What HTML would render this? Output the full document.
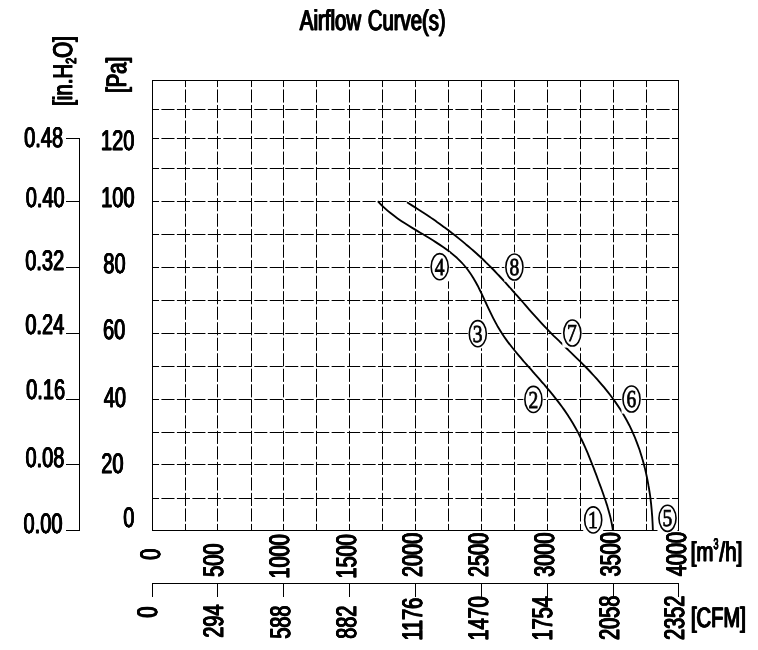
<!DOCTYPE html>
<html><head><meta charset="utf-8"><title>Airflow Curve(s)</title>
<style>
html,body{margin:0;padding:0;background:#fff;}
svg{display:block;filter:grayscale(1);}
text{font-family:"Liberation Sans",sans-serif;fill:#000;text-rendering:geometricPrecision;}
</style></head>
<body>
<svg width="758" height="650" viewBox="0 0 758 650">
<rect width="758" height="650" fill="#fff"/>
<g stroke="#000" stroke-width="1.0" fill="none">
<line x1="185.5" y1="80.5" x2="185.5" y2="530.5" stroke-dasharray="13.117 2.4" stroke-dashoffset="6.559"/>
<line x1="217.5" y1="80.5" x2="217.5" y2="530.5" stroke-dasharray="13.117 2.4" stroke-dashoffset="6.559"/>
<line x1="251.5" y1="80.5" x2="251.5" y2="530.5" stroke-dasharray="13.117 2.4" stroke-dashoffset="6.559"/>
<line x1="283.5" y1="80.5" x2="283.5" y2="530.5" stroke-dasharray="13.117 2.4" stroke-dashoffset="6.559"/>
<line x1="316.5" y1="80.5" x2="316.5" y2="530.5" stroke-dasharray="13.117 2.4" stroke-dashoffset="6.559"/>
<line x1="349.5" y1="80.5" x2="349.5" y2="530.5" stroke-dasharray="13.117 2.4" stroke-dashoffset="6.559"/>
<line x1="382.5" y1="80.5" x2="382.5" y2="530.5" stroke-dasharray="13.117 2.4" stroke-dashoffset="6.559"/>
<line x1="415.5" y1="80.5" x2="415.5" y2="530.5" stroke-dasharray="13.117 2.4" stroke-dashoffset="6.559"/>
<line x1="448.5" y1="80.5" x2="448.5" y2="530.5" stroke-dasharray="13.117 2.4" stroke-dashoffset="6.559"/>
<line x1="481.5" y1="80.5" x2="481.5" y2="530.5" stroke-dasharray="13.117 2.4" stroke-dashoffset="6.559"/>
<line x1="514.5" y1="80.5" x2="514.5" y2="530.5" stroke-dasharray="13.117 2.4" stroke-dashoffset="6.559"/>
<line x1="547.5" y1="80.5" x2="547.5" y2="530.5" stroke-dasharray="13.117 2.4" stroke-dashoffset="6.559"/>
<line x1="580.5" y1="80.5" x2="580.5" y2="530.5" stroke-dasharray="13.117 2.4" stroke-dashoffset="6.559"/>
<line x1="613.5" y1="80.5" x2="613.5" y2="530.5" stroke-dasharray="13.117 2.4" stroke-dashoffset="6.559"/>
<line x1="646.5" y1="80.5" x2="646.5" y2="530.5" stroke-dasharray="13.117 2.4" stroke-dashoffset="6.559"/>
<line x1="152.5" y1="109.5" x2="678.5" y2="109.5" stroke-dasharray="13.071 2.4" stroke-dashoffset="6.535"/>
<line x1="152.5" y1="138.5" x2="678.5" y2="138.5" stroke-dasharray="13.071 2.4" stroke-dashoffset="6.535"/>
<line x1="152.5" y1="168.5" x2="678.5" y2="168.5" stroke-dasharray="13.071 2.4" stroke-dashoffset="6.535"/>
<line x1="152.5" y1="201.5" x2="678.5" y2="201.5" stroke-dasharray="13.071 2.4" stroke-dashoffset="6.535"/>
<line x1="152.5" y1="234.5" x2="678.5" y2="234.5" stroke-dasharray="13.071 2.4" stroke-dashoffset="6.535"/>
<line x1="152.5" y1="267.5" x2="678.5" y2="267.5" stroke-dasharray="13.071 2.4" stroke-dashoffset="6.535"/>
<line x1="152.5" y1="300.5" x2="678.5" y2="300.5" stroke-dasharray="13.071 2.4" stroke-dashoffset="6.535"/>
<line x1="152.5" y1="333.5" x2="678.5" y2="333.5" stroke-dasharray="13.071 2.4" stroke-dashoffset="6.535"/>
<line x1="152.5" y1="366.5" x2="678.5" y2="366.5" stroke-dasharray="13.071 2.4" stroke-dashoffset="6.535"/>
<line x1="152.5" y1="399.5" x2="678.5" y2="399.5" stroke-dasharray="13.071 2.4" stroke-dashoffset="6.535"/>
<line x1="152.5" y1="432.5" x2="678.5" y2="432.5" stroke-dasharray="13.071 2.4" stroke-dashoffset="6.535"/>
<line x1="152.5" y1="464.5" x2="678.5" y2="464.5" stroke-dasharray="13.071 2.4" stroke-dashoffset="6.535"/>
<line x1="152.5" y1="498.5" x2="678.5" y2="498.5" stroke-dasharray="13.071 2.4" stroke-dashoffset="6.535"/>
<rect x="152.5" y="80.5" width="526.0" height="450.0"/>
</g>
<g stroke="#000" stroke-width="1.0" fill="none">
<line x1="79.5" y1="138.0" x2="79.5" y2="531.0"/>
<line x1="66" y1="138.5" x2="80" y2="138.5"/>
<line x1="66" y1="201.5" x2="80" y2="201.5"/>
<line x1="66" y1="267.5" x2="80" y2="267.5"/>
<line x1="66" y1="333.5" x2="80" y2="333.5"/>
<line x1="66" y1="399.5" x2="80" y2="399.5"/>
<line x1="66" y1="464.5" x2="80" y2="464.5"/>
<line x1="66" y1="530.5" x2="80" y2="530.5"/>
</g>
<g stroke="#000" stroke-width="1.0" fill="none">
<line x1="152.0" y1="583.5" x2="679.0" y2="583.5"/>
<line x1="152.5" y1="583.0" x2="152.5" y2="597"/>
<line x1="217.5" y1="583.0" x2="217.5" y2="597"/>
<line x1="283.5" y1="583.0" x2="283.5" y2="597"/>
<line x1="349.5" y1="583.0" x2="349.5" y2="597"/>
<line x1="415.5" y1="583.0" x2="415.5" y2="597"/>
<line x1="481.5" y1="583.0" x2="481.5" y2="597"/>
<line x1="547.5" y1="583.0" x2="547.5" y2="597"/>
<line x1="613.5" y1="583.0" x2="613.5" y2="597"/>
<line x1="678.5" y1="583.0" x2="678.5" y2="597"/>
</g>
<path d="M377.9,201.2 C378.9,202.3 381.8,205.5 383.9,207.4 C386.0,209.4 388.2,211.3 390.5,213.1 C392.8,214.9 395.2,216.7 397.6,218.4 C400.0,220.1 402.4,221.7 404.9,223.3 C407.4,224.9 410.0,226.5 412.6,228.1 C415.1,229.6 417.7,231.2 420.3,232.7 C422.9,234.2 425.5,235.8 428.0,237.3 C430.6,238.9 433.2,240.5 435.7,242.1 C438.2,243.7 440.7,245.3 443.1,247.0 C445.5,248.7 447.9,250.4 450.2,252.2 C452.5,254.0 454.7,255.9 456.9,257.8 C459.0,259.8 461.1,261.8 463.0,264.0 C464.9,266.1 466.8,268.4 468.5,270.7 C470.2,273.0 471.8,275.5 473.3,278.0 C474.8,280.5 476.3,283.1 477.7,285.7 C479.0,288.4 480.4,291.1 481.7,293.8 C483.0,296.5 484.2,299.2 485.5,302.0 C486.8,304.7 488.0,307.4 489.3,310.1 C490.6,312.8 491.9,315.5 493.2,318.1 C494.6,320.8 496.0,323.3 497.4,325.9 C498.9,328.4 500.4,330.9 502.0,333.4 C503.5,335.8 505.2,338.2 506.9,340.6 C508.6,342.9 510.4,345.3 512.2,347.5 C514.0,349.8 515.9,352.1 517.8,354.3 C519.7,356.6 521.6,358.8 523.5,361.1 C525.5,363.3 527.4,365.5 529.4,367.7 C531.3,370.0 533.3,372.2 535.2,374.4 C537.2,376.6 539.2,378.8 541.1,381.1 C543.0,383.3 545.0,385.5 546.9,387.8 C548.8,390.1 550.7,392.3 552.6,394.6 C554.4,396.9 556.3,399.2 558.1,401.6 C559.9,403.9 561.6,406.3 563.3,408.6 C565.1,411.0 566.7,413.5 568.3,415.9 C570.0,418.4 571.5,420.9 573.0,423.4 C574.5,426.0 575.9,428.5 577.3,431.1 C578.7,433.7 580.0,436.4 581.3,439.0 C582.6,441.7 583.9,444.4 585.1,447.1 C586.3,449.8 587.4,452.6 588.6,455.3 C589.7,458.0 590.8,460.8 591.9,463.6 C593.0,466.3 594.1,469.1 595.1,471.9 C596.2,474.6 597.2,477.4 598.2,480.2 C599.2,483.0 600.3,485.7 601.3,488.5 C602.3,491.3 603.3,494.0 604.2,496.8 C605.2,499.6 606.1,502.3 607.0,505.1 C607.8,507.9 608.7,510.7 609.4,513.6 C610.2,516.4 610.9,519.3 611.5,522.2 C612.1,525.1 612.8,529.5 613.0,531.0" fill="none" stroke="#000" stroke-width="1.85"/>
<path d="M407.0,202.3 C408.3,203.1 412.1,205.5 414.7,207.1 C417.2,208.7 419.8,210.3 422.3,212.0 C424.8,213.6 427.4,215.3 429.9,217.0 C432.3,218.7 434.8,220.4 437.3,222.2 C439.8,223.9 442.2,225.7 444.7,227.5 C447.1,229.3 449.5,231.1 451.9,233.0 C454.3,234.8 456.7,236.7 459.0,238.6 C461.4,240.5 463.7,242.4 466.0,244.4 C468.4,246.3 470.6,248.3 472.9,250.3 C475.2,252.3 477.4,254.3 479.6,256.3 C481.9,258.4 484.1,260.5 486.2,262.6 C488.4,264.7 490.5,266.8 492.7,269.0 C494.8,271.1 496.8,273.3 498.9,275.5 C501.0,277.7 503.0,279.9 505.1,282.2 C507.1,284.4 509.1,286.7 511.1,288.9 C513.1,291.2 515.1,293.4 517.1,295.7 C519.1,298.0 521.1,300.3 523.1,302.5 C525.1,304.8 527.0,307.1 529.0,309.3 C531.0,311.6 533.0,313.8 535.1,316.1 C537.1,318.3 539.1,320.5 541.2,322.8 C543.2,325.0 545.3,327.2 547.4,329.3 C549.5,331.5 551.6,333.7 553.7,335.8 C555.9,337.9 558.0,340.0 560.2,342.1 C562.4,344.3 564.6,346.3 566.7,348.5 C568.9,350.6 571.1,352.6 573.3,354.8 C575.4,356.9 577.6,359.0 579.8,361.1 C581.9,363.2 584.1,365.4 586.2,367.5 C588.3,369.7 590.4,371.9 592.4,374.1 C594.5,376.3 596.5,378.6 598.5,380.8 C600.5,383.1 602.5,385.4 604.4,387.7 C606.3,390.1 608.2,392.4 610.0,394.8 C611.8,397.2 613.6,399.6 615.4,402.1 C617.1,404.5 618.8,407.0 620.4,409.6 C622.0,412.1 623.5,414.7 625.0,417.3 C626.5,419.9 627.9,422.5 629.3,425.2 C630.6,427.9 631.9,430.6 633.1,433.4 C634.4,436.2 635.5,438.9 636.6,441.8 C637.7,444.6 638.7,447.5 639.7,450.3 C640.6,453.2 641.6,456.1 642.4,459.0 C643.3,462.0 644.0,464.9 644.8,467.9 C645.5,470.8 646.2,473.8 646.8,476.8 C647.4,479.7 648.0,482.7 648.5,485.7 C649.1,488.7 649.5,491.7 650.0,494.8 C650.4,497.8 650.8,500.8 651.1,503.8 C651.4,506.8 651.7,509.8 651.9,512.8 C652.2,515.7 652.4,518.7 652.5,521.7 C652.7,524.7 652.8,529.1 652.9,530.6" fill="none" stroke="#000" stroke-width="1.85"/>
<rect x="583.2" y="505.3" width="20" height="29.2" fill="#fff"/>
<ellipse cx="593.2" cy="519.9" rx="8.55" ry="13.05" fill="#fff" stroke="#000" stroke-width="1.6"/>
<text transform="translate(588.05,528.00) rotate(0) translate(0.00,0) scale(0.8000,1.0000)" style="font-family:'Liberation Serif'" font-size="24.4" stroke="#000" stroke-width="0.8">1</text>
<rect x="523.4" y="384.8" width="20" height="29.2" fill="#fff"/>
<ellipse cx="533.4" cy="399.4" rx="8.55" ry="13.05" fill="#fff" stroke="#000" stroke-width="1.6"/>
<text transform="translate(528.62,408.00) rotate(0) translate(0.00,0) scale(0.8000,1.0000)" style="font-family:'Liberation Serif'" font-size="24.4" stroke="#000" stroke-width="0.8">2</text>
<rect x="467.8" y="319.1" width="20" height="29.2" fill="#fff"/>
<ellipse cx="477.8" cy="333.7" rx="8.55" ry="13.05" fill="#fff" stroke="#000" stroke-width="1.6"/>
<text transform="translate(472.85,342.00) rotate(0) translate(0.00,0) scale(0.8000,1.0000)" style="font-family:'Liberation Serif'" font-size="24.4" stroke="#000" stroke-width="0.8">3</text>
<rect x="429.7" y="252.1" width="20" height="29.2" fill="#fff"/>
<ellipse cx="439.7" cy="266.7" rx="8.55" ry="13.05" fill="#fff" stroke="#000" stroke-width="1.6"/>
<text transform="translate(434.77,275.00) rotate(0) translate(0.00,0) scale(0.8000,1.0000)" style="font-family:'Liberation Serif'" font-size="24.4" stroke="#000" stroke-width="0.8">4</text>
<rect x="657.5" y="503.7" width="20" height="29.2" fill="#fff"/>
<ellipse cx="667.5" cy="518.3" rx="8.55" ry="13.05" fill="#fff" stroke="#000" stroke-width="1.6"/>
<text transform="translate(662.45,526.00) rotate(0) translate(0.00,0) scale(0.8000,1.0000)" style="font-family:'Liberation Serif'" font-size="24.4" stroke="#000" stroke-width="0.8">5</text>
<rect x="621.5" y="384.4" width="20" height="29.2" fill="#fff"/>
<ellipse cx="631.5" cy="399.0" rx="8.55" ry="13.05" fill="#fff" stroke="#000" stroke-width="1.6"/>
<text transform="translate(626.50,407.00) rotate(0) translate(0.00,0) scale(0.8000,1.0000)" style="font-family:'Liberation Serif'" font-size="24.4" stroke="#000" stroke-width="0.8">6</text>
<rect x="562.3" y="318.4" width="20" height="29.2" fill="#fff"/>
<ellipse cx="572.3" cy="333.0" rx="8.55" ry="13.05" fill="#fff" stroke="#000" stroke-width="1.6"/>
<text transform="translate(567.08,341.00) rotate(0) translate(0.00,0) scale(0.8000,1.0000)" style="font-family:'Liberation Serif'" font-size="24.4" stroke="#000" stroke-width="0.8">7</text>
<rect x="504.4" y="252.4" width="20" height="29.2" fill="#fff"/>
<ellipse cx="514.4" cy="267.0" rx="8.55" ry="13.05" fill="#fff" stroke="#000" stroke-width="1.6"/>
<text transform="translate(509.52,275.00) rotate(0) translate(0.00,0) scale(0.8000,1.0000)" style="font-family:'Liberation Serif'" font-size="24.4" stroke="#000" stroke-width="0.8">8</text>
<text transform="translate(299.80,30.00) rotate(0) translate(-0.45,0) scale(0.7298,1.0250)" style="font-family:'Liberation Sans'" font-size="28.0" stroke="#000" stroke-width="0.4">Airflow</text>
<text transform="translate(299.80,30.00) rotate(0) translate(0.00,0) scale(0.7298,1.0250)" style="font-family:'Liberation Sans'" font-size="28.0" stroke="#000" stroke-width="0.4">Airflow</text>
<text transform="translate(299.80,30.00) rotate(0) translate(0.45,0) scale(0.7298,1.0250)" style="font-family:'Liberation Sans'" font-size="28.0" stroke="#000" stroke-width="0.4">Airflow</text>
<text transform="translate(367.84,30.00) rotate(0) translate(-0.45,0) scale(0.7248,1.0250)" style="font-family:'Liberation Sans'" font-size="28.0" stroke="#000" stroke-width="0.4">Curve(s)</text>
<text transform="translate(367.84,30.00) rotate(0) translate(0.00,0) scale(0.7248,1.0250)" style="font-family:'Liberation Sans'" font-size="28.0" stroke="#000" stroke-width="0.4">Curve(s)</text>
<text transform="translate(367.84,30.00) rotate(0) translate(0.45,0) scale(0.7248,1.0250)" style="font-family:'Liberation Sans'" font-size="28.0" stroke="#000" stroke-width="0.4">Curve(s)</text>
<text transform="translate(24.16,147.00) rotate(0) translate(-0.32,0) scale(0.7150,1.0100)" style="font-family:'Liberation Sans'" font-size="28.0" stroke="#000" stroke-width="0.42">0.48</text>
<text transform="translate(24.16,147.00) rotate(0) translate(0.00,0) scale(0.7150,1.0100)" style="font-family:'Liberation Sans'" font-size="28.0" stroke="#000" stroke-width="0.42">0.48</text>
<text transform="translate(24.16,147.00) rotate(0) translate(0.32,0) scale(0.7150,1.0100)" style="font-family:'Liberation Sans'" font-size="28.0" stroke="#000" stroke-width="0.42">0.48</text>
<text transform="translate(25.71,207.00) rotate(0) translate(-0.32,0) scale(0.7150,1.0100)" style="font-family:'Liberation Sans'" font-size="28.0" stroke="#000" stroke-width="0.42">0.40</text>
<text transform="translate(25.71,207.00) rotate(0) translate(0.00,0) scale(0.7150,1.0100)" style="font-family:'Liberation Sans'" font-size="28.0" stroke="#000" stroke-width="0.42">0.40</text>
<text transform="translate(25.71,207.00) rotate(0) translate(0.32,0) scale(0.7150,1.0100)" style="font-family:'Liberation Sans'" font-size="28.0" stroke="#000" stroke-width="0.42">0.40</text>
<text transform="translate(25.23,270.00) rotate(0) translate(-0.32,0) scale(0.7150,1.0100)" style="font-family:'Liberation Sans'" font-size="28.0" stroke="#000" stroke-width="0.42">0.32</text>
<text transform="translate(25.23,270.00) rotate(0) translate(0.00,0) scale(0.7150,1.0100)" style="font-family:'Liberation Sans'" font-size="28.0" stroke="#000" stroke-width="0.42">0.32</text>
<text transform="translate(25.23,270.00) rotate(0) translate(0.32,0) scale(0.7150,1.0100)" style="font-family:'Liberation Sans'" font-size="28.0" stroke="#000" stroke-width="0.42">0.32</text>
<text transform="translate(25.31,334.00) rotate(0) translate(-0.32,0) scale(0.7150,1.0100)" style="font-family:'Liberation Sans'" font-size="28.0" stroke="#000" stroke-width="0.42">0.24</text>
<text transform="translate(25.31,334.00) rotate(0) translate(0.00,0) scale(0.7150,1.0100)" style="font-family:'Liberation Sans'" font-size="28.0" stroke="#000" stroke-width="0.42">0.24</text>
<text transform="translate(25.31,334.00) rotate(0) translate(0.32,0) scale(0.7150,1.0100)" style="font-family:'Liberation Sans'" font-size="28.0" stroke="#000" stroke-width="0.42">0.24</text>
<text transform="translate(26.16,399.00) rotate(0) translate(-0.32,0) scale(0.7150,1.0100)" style="font-family:'Liberation Sans'" font-size="28.0" stroke="#000" stroke-width="0.42">0.16</text>
<text transform="translate(26.16,399.00) rotate(0) translate(0.00,0) scale(0.7150,1.0100)" style="font-family:'Liberation Sans'" font-size="28.0" stroke="#000" stroke-width="0.42">0.16</text>
<text transform="translate(26.16,399.00) rotate(0) translate(0.32,0) scale(0.7150,1.0100)" style="font-family:'Liberation Sans'" font-size="28.0" stroke="#000" stroke-width="0.42">0.16</text>
<text transform="translate(25.46,467.00) rotate(0) translate(-0.32,0) scale(0.7150,1.0100)" style="font-family:'Liberation Sans'" font-size="28.0" stroke="#000" stroke-width="0.42">0.08</text>
<text transform="translate(25.46,467.00) rotate(0) translate(0.00,0) scale(0.7150,1.0100)" style="font-family:'Liberation Sans'" font-size="28.0" stroke="#000" stroke-width="0.42">0.08</text>
<text transform="translate(25.46,467.00) rotate(0) translate(0.32,0) scale(0.7150,1.0100)" style="font-family:'Liberation Sans'" font-size="28.0" stroke="#000" stroke-width="0.42">0.08</text>
<text transform="translate(23.51,533.00) rotate(0) translate(-0.32,0) scale(0.7150,1.0100)" style="font-family:'Liberation Sans'" font-size="28.0" stroke="#000" stroke-width="0.42">0.00</text>
<text transform="translate(23.51,533.00) rotate(0) translate(0.00,0) scale(0.7150,1.0100)" style="font-family:'Liberation Sans'" font-size="28.0" stroke="#000" stroke-width="0.42">0.00</text>
<text transform="translate(23.51,533.00) rotate(0) translate(0.32,0) scale(0.7150,1.0100)" style="font-family:'Liberation Sans'" font-size="28.0" stroke="#000" stroke-width="0.42">0.00</text>
<text transform="translate(100.93,150.00) rotate(0) translate(-0.32,0) scale(0.7150,1.0100)" style="font-family:'Liberation Sans'" font-size="28.0" stroke="#000" stroke-width="0.42">120</text>
<text transform="translate(100.93,150.00) rotate(0) translate(0.00,0) scale(0.7150,1.0100)" style="font-family:'Liberation Sans'" font-size="28.0" stroke="#000" stroke-width="0.42">120</text>
<text transform="translate(100.93,150.00) rotate(0) translate(0.32,0) scale(0.7150,1.0100)" style="font-family:'Liberation Sans'" font-size="28.0" stroke="#000" stroke-width="0.42">120</text>
<text transform="translate(101.13,207.00) rotate(0) translate(-0.32,0) scale(0.7150,1.0100)" style="font-family:'Liberation Sans'" font-size="28.0" stroke="#000" stroke-width="0.42">100</text>
<text transform="translate(101.13,207.00) rotate(0) translate(0.00,0) scale(0.7150,1.0100)" style="font-family:'Liberation Sans'" font-size="28.0" stroke="#000" stroke-width="0.42">100</text>
<text transform="translate(101.13,207.00) rotate(0) translate(0.32,0) scale(0.7150,1.0100)" style="font-family:'Liberation Sans'" font-size="28.0" stroke="#000" stroke-width="0.42">100</text>
<text transform="translate(103.34,273.00) rotate(0) translate(-0.32,0) scale(0.7150,1.0100)" style="font-family:'Liberation Sans'" font-size="28.0" stroke="#000" stroke-width="0.42">80</text>
<text transform="translate(103.34,273.00) rotate(0) translate(0.00,0) scale(0.7150,1.0100)" style="font-family:'Liberation Sans'" font-size="28.0" stroke="#000" stroke-width="0.42">80</text>
<text transform="translate(103.34,273.00) rotate(0) translate(0.32,0) scale(0.7150,1.0100)" style="font-family:'Liberation Sans'" font-size="28.0" stroke="#000" stroke-width="0.42">80</text>
<text transform="translate(102.96,339.00) rotate(0) translate(-0.32,0) scale(0.7150,1.0100)" style="font-family:'Liberation Sans'" font-size="28.0" stroke="#000" stroke-width="0.42">60</text>
<text transform="translate(102.96,339.00) rotate(0) translate(0.00,0) scale(0.7150,1.0100)" style="font-family:'Liberation Sans'" font-size="28.0" stroke="#000" stroke-width="0.42">60</text>
<text transform="translate(102.96,339.00) rotate(0) translate(0.32,0) scale(0.7150,1.0100)" style="font-family:'Liberation Sans'" font-size="28.0" stroke="#000" stroke-width="0.42">60</text>
<text transform="translate(103.74,407.00) rotate(0) translate(-0.32,0) scale(0.7150,1.0100)" style="font-family:'Liberation Sans'" font-size="28.0" stroke="#000" stroke-width="0.42">40</text>
<text transform="translate(103.74,407.00) rotate(0) translate(0.00,0) scale(0.7150,1.0100)" style="font-family:'Liberation Sans'" font-size="28.0" stroke="#000" stroke-width="0.42">40</text>
<text transform="translate(103.74,407.00) rotate(0) translate(0.32,0) scale(0.7150,1.0100)" style="font-family:'Liberation Sans'" font-size="28.0" stroke="#000" stroke-width="0.42">40</text>
<text transform="translate(101.26,473.00) rotate(0) translate(-0.32,0) scale(0.7150,1.0100)" style="font-family:'Liberation Sans'" font-size="28.0" stroke="#000" stroke-width="0.42">20</text>
<text transform="translate(101.26,473.00) rotate(0) translate(0.00,0) scale(0.7150,1.0100)" style="font-family:'Liberation Sans'" font-size="28.0" stroke="#000" stroke-width="0.42">20</text>
<text transform="translate(101.26,473.00) rotate(0) translate(0.32,0) scale(0.7150,1.0100)" style="font-family:'Liberation Sans'" font-size="28.0" stroke="#000" stroke-width="0.42">20</text>
<text transform="translate(123.22,527.00) rotate(0) translate(-0.32,0) scale(0.7150,1.0100)" style="font-family:'Liberation Sans'" font-size="28.0" stroke="#000" stroke-width="0.42">0</text>
<text transform="translate(123.22,527.00) rotate(0) translate(0.00,0) scale(0.7150,1.0100)" style="font-family:'Liberation Sans'" font-size="28.0" stroke="#000" stroke-width="0.42">0</text>
<text transform="translate(123.22,527.00) rotate(0) translate(0.32,0) scale(0.7150,1.0100)" style="font-family:'Liberation Sans'" font-size="28.0" stroke="#000" stroke-width="0.42">0</text>
<text transform="translate(126.00,92.89) rotate(-90) translate(-0.45,0) scale(0.7220,1.0000)" style="font-family:'Liberation Sans'" font-size="28.0" stroke="#000" stroke-width="0.5">[Pa]</text>
<text transform="translate(126.00,92.89) rotate(-90) translate(0.00,0) scale(0.7220,1.0000)" style="font-family:'Liberation Sans'" font-size="28.0" stroke="#000" stroke-width="0.5">[Pa]</text>
<text transform="translate(126.00,92.89) rotate(-90) translate(0.45,0) scale(0.7220,1.0000)" style="font-family:'Liberation Sans'" font-size="28.0" stroke="#000" stroke-width="0.5">[Pa]</text>
<text transform="translate(72.00,105.88) rotate(-90) translate(-0.45,0) scale(0.7300,0.9700)" style="font-family:'Liberation Sans'" font-size="28.0" stroke="#000" stroke-width="0.5">[in.H<tspan font-size="15" dy="4">2</tspan><tspan dy="-4">O]</tspan></text>
<text transform="translate(72.00,105.88) rotate(-90) translate(0.00,0) scale(0.7300,0.9700)" style="font-family:'Liberation Sans'" font-size="28.0" stroke="#000" stroke-width="0.5">[in.H<tspan font-size="15" dy="4">2</tspan><tspan dy="-4">O]</tspan></text>
<text transform="translate(72.00,105.88) rotate(-90) translate(0.45,0) scale(0.7300,0.9700)" style="font-family:'Liberation Sans'" font-size="28.0" stroke="#000" stroke-width="0.5">[in.H<tspan font-size="15" dy="4">2</tspan><tspan dy="-4">O]</tspan></text>
<text transform="translate(160.00,559.74) rotate(-90) translate(-0.35,0) scale(0.7100,1.0150)" style="font-family:'Liberation Sans'" font-size="28.0" stroke="#000" stroke-width="0.5">0</text>
<text transform="translate(160.00,559.74) rotate(-90) translate(0.00,0) scale(0.7100,1.0150)" style="font-family:'Liberation Sans'" font-size="28.0" stroke="#000" stroke-width="0.5">0</text>
<text transform="translate(160.00,559.74) rotate(-90) translate(0.35,0) scale(0.7100,1.0150)" style="font-family:'Liberation Sans'" font-size="28.0" stroke="#000" stroke-width="0.5">0</text>
<text transform="translate(223.00,576.80) rotate(-90) translate(-0.35,0) scale(0.7100,1.0150)" style="font-family:'Liberation Sans'" font-size="28.0" stroke="#000" stroke-width="0.5">500</text>
<text transform="translate(223.00,576.80) rotate(-90) translate(0.00,0) scale(0.7100,1.0150)" style="font-family:'Liberation Sans'" font-size="28.0" stroke="#000" stroke-width="0.5">500</text>
<text transform="translate(223.00,576.80) rotate(-90) translate(0.35,0) scale(0.7100,1.0150)" style="font-family:'Liberation Sans'" font-size="28.0" stroke="#000" stroke-width="0.5">500</text>
<text transform="translate(289.00,578.49) rotate(-90) translate(-0.35,0) scale(0.7100,1.0150)" style="font-family:'Liberation Sans'" font-size="28.0" stroke="#000" stroke-width="0.5">1000</text>
<text transform="translate(289.00,578.49) rotate(-90) translate(0.00,0) scale(0.7100,1.0150)" style="font-family:'Liberation Sans'" font-size="28.0" stroke="#000" stroke-width="0.5">1000</text>
<text transform="translate(289.00,578.49) rotate(-90) translate(0.35,0) scale(0.7100,1.0150)" style="font-family:'Liberation Sans'" font-size="28.0" stroke="#000" stroke-width="0.5">1000</text>
<text transform="translate(356.00,578.49) rotate(-90) translate(-0.35,0) scale(0.7100,1.0150)" style="font-family:'Liberation Sans'" font-size="28.0" stroke="#000" stroke-width="0.5">1500</text>
<text transform="translate(356.00,578.49) rotate(-90) translate(0.00,0) scale(0.7100,1.0150)" style="font-family:'Liberation Sans'" font-size="28.0" stroke="#000" stroke-width="0.5">1500</text>
<text transform="translate(356.00,578.49) rotate(-90) translate(0.35,0) scale(0.7100,1.0150)" style="font-family:'Liberation Sans'" font-size="28.0" stroke="#000" stroke-width="0.5">1500</text>
<text transform="translate(422.00,576.99) rotate(-90) translate(-0.35,0) scale(0.7100,1.0150)" style="font-family:'Liberation Sans'" font-size="28.0" stroke="#000" stroke-width="0.5">2000</text>
<text transform="translate(422.00,576.99) rotate(-90) translate(0.00,0) scale(0.7100,1.0150)" style="font-family:'Liberation Sans'" font-size="28.0" stroke="#000" stroke-width="0.5">2000</text>
<text transform="translate(422.00,576.99) rotate(-90) translate(0.35,0) scale(0.7100,1.0150)" style="font-family:'Liberation Sans'" font-size="28.0" stroke="#000" stroke-width="0.5">2000</text>
<text transform="translate(488.00,576.99) rotate(-90) translate(-0.35,0) scale(0.7100,1.0150)" style="font-family:'Liberation Sans'" font-size="28.0" stroke="#000" stroke-width="0.5">2500</text>
<text transform="translate(488.00,576.99) rotate(-90) translate(0.00,0) scale(0.7100,1.0150)" style="font-family:'Liberation Sans'" font-size="28.0" stroke="#000" stroke-width="0.5">2500</text>
<text transform="translate(488.00,576.99) rotate(-90) translate(0.35,0) scale(0.7100,1.0150)" style="font-family:'Liberation Sans'" font-size="28.0" stroke="#000" stroke-width="0.5">2500</text>
<text transform="translate(554.00,576.75) rotate(-90) translate(-0.35,0) scale(0.7100,1.0150)" style="font-family:'Liberation Sans'" font-size="28.0" stroke="#000" stroke-width="0.5">3000</text>
<text transform="translate(554.00,576.75) rotate(-90) translate(0.00,0) scale(0.7100,1.0150)" style="font-family:'Liberation Sans'" font-size="28.0" stroke="#000" stroke-width="0.5">3000</text>
<text transform="translate(554.00,576.75) rotate(-90) translate(0.35,0) scale(0.7100,1.0150)" style="font-family:'Liberation Sans'" font-size="28.0" stroke="#000" stroke-width="0.5">3000</text>
<text transform="translate(620.00,576.45) rotate(-90) translate(-0.35,0) scale(0.7100,1.0150)" style="font-family:'Liberation Sans'" font-size="28.0" stroke="#000" stroke-width="0.5">3500</text>
<text transform="translate(620.00,576.45) rotate(-90) translate(0.00,0) scale(0.7100,1.0150)" style="font-family:'Liberation Sans'" font-size="28.0" stroke="#000" stroke-width="0.5">3500</text>
<text transform="translate(620.00,576.45) rotate(-90) translate(0.35,0) scale(0.7100,1.0150)" style="font-family:'Liberation Sans'" font-size="28.0" stroke="#000" stroke-width="0.5">3500</text>
<text transform="translate(686.00,576.15) rotate(-90) translate(-0.35,0) scale(0.7100,1.0150)" style="font-family:'Liberation Sans'" font-size="28.0" stroke="#000" stroke-width="0.5">4000</text>
<text transform="translate(686.00,576.15) rotate(-90) translate(0.00,0) scale(0.7100,1.0150)" style="font-family:'Liberation Sans'" font-size="28.0" stroke="#000" stroke-width="0.5">4000</text>
<text transform="translate(686.00,576.15) rotate(-90) translate(0.35,0) scale(0.7100,1.0150)" style="font-family:'Liberation Sans'" font-size="28.0" stroke="#000" stroke-width="0.5">4000</text>
<text transform="translate(157.00,617.54) rotate(-90) translate(-0.35,0) scale(0.7100,1.0150)" style="font-family:'Liberation Sans'" font-size="28.0" stroke="#000" stroke-width="0.5">0</text>
<text transform="translate(157.00,617.54) rotate(-90) translate(0.00,0) scale(0.7100,1.0150)" style="font-family:'Liberation Sans'" font-size="28.0" stroke="#000" stroke-width="0.5">0</text>
<text transform="translate(157.00,617.54) rotate(-90) translate(0.35,0) scale(0.7100,1.0150)" style="font-family:'Liberation Sans'" font-size="28.0" stroke="#000" stroke-width="0.5">0</text>
<text transform="translate(223.00,637.69) rotate(-90) translate(-0.35,0) scale(0.7100,1.0150)" style="font-family:'Liberation Sans'" font-size="28.0" stroke="#000" stroke-width="0.5">294</text>
<text transform="translate(223.00,637.69) rotate(-90) translate(0.00,0) scale(0.7100,1.0150)" style="font-family:'Liberation Sans'" font-size="28.0" stroke="#000" stroke-width="0.5">294</text>
<text transform="translate(223.00,637.69) rotate(-90) translate(0.35,0) scale(0.7100,1.0150)" style="font-family:'Liberation Sans'" font-size="28.0" stroke="#000" stroke-width="0.5">294</text>
<text transform="translate(290.00,638.70) rotate(-90) translate(-0.35,0) scale(0.7100,1.0150)" style="font-family:'Liberation Sans'" font-size="28.0" stroke="#000" stroke-width="0.5">588</text>
<text transform="translate(290.00,638.70) rotate(-90) translate(0.00,0) scale(0.7100,1.0150)" style="font-family:'Liberation Sans'" font-size="28.0" stroke="#000" stroke-width="0.5">588</text>
<text transform="translate(290.00,638.70) rotate(-90) translate(0.35,0) scale(0.7100,1.0150)" style="font-family:'Liberation Sans'" font-size="28.0" stroke="#000" stroke-width="0.5">588</text>
<text transform="translate(356.00,638.74) rotate(-90) translate(-0.35,0) scale(0.7100,1.0150)" style="font-family:'Liberation Sans'" font-size="28.0" stroke="#000" stroke-width="0.5">882</text>
<text transform="translate(356.00,638.74) rotate(-90) translate(0.00,0) scale(0.7100,1.0150)" style="font-family:'Liberation Sans'" font-size="28.0" stroke="#000" stroke-width="0.5">882</text>
<text transform="translate(356.00,638.74) rotate(-90) translate(0.35,0) scale(0.7100,1.0150)" style="font-family:'Liberation Sans'" font-size="28.0" stroke="#000" stroke-width="0.5">882</text>
<text transform="translate(422.00,640.49) rotate(-90) translate(-0.35,0) scale(0.7100,1.0150)" style="font-family:'Liberation Sans'" font-size="28.0" stroke="#000" stroke-width="0.5">1176</text>
<text transform="translate(422.00,640.49) rotate(-90) translate(0.00,0) scale(0.7100,1.0150)" style="font-family:'Liberation Sans'" font-size="28.0" stroke="#000" stroke-width="0.5">1176</text>
<text transform="translate(422.00,640.49) rotate(-90) translate(0.35,0) scale(0.7100,1.0150)" style="font-family:'Liberation Sans'" font-size="28.0" stroke="#000" stroke-width="0.5">1176</text>
<text transform="translate(488.00,640.49) rotate(-90) translate(-0.35,0) scale(0.7100,1.0150)" style="font-family:'Liberation Sans'" font-size="28.0" stroke="#000" stroke-width="0.5">1470</text>
<text transform="translate(488.00,640.49) rotate(-90) translate(0.00,0) scale(0.7100,1.0150)" style="font-family:'Liberation Sans'" font-size="28.0" stroke="#000" stroke-width="0.5">1470</text>
<text transform="translate(488.00,640.49) rotate(-90) translate(0.35,0) scale(0.7100,1.0150)" style="font-family:'Liberation Sans'" font-size="28.0" stroke="#000" stroke-width="0.5">1470</text>
<text transform="translate(552.00,640.49) rotate(-90) translate(-0.35,0) scale(0.7100,1.0150)" style="font-family:'Liberation Sans'" font-size="28.0" stroke="#000" stroke-width="0.5">1754</text>
<text transform="translate(552.00,640.49) rotate(-90) translate(0.00,0) scale(0.7100,1.0150)" style="font-family:'Liberation Sans'" font-size="28.0" stroke="#000" stroke-width="0.5">1754</text>
<text transform="translate(552.00,640.49) rotate(-90) translate(0.35,0) scale(0.7100,1.0150)" style="font-family:'Liberation Sans'" font-size="28.0" stroke="#000" stroke-width="0.5">1754</text>
<text transform="translate(619.00,639.89) rotate(-90) translate(-0.35,0) scale(0.7100,1.0150)" style="font-family:'Liberation Sans'" font-size="28.0" stroke="#000" stroke-width="0.5">2058</text>
<text transform="translate(619.00,639.89) rotate(-90) translate(0.00,0) scale(0.7100,1.0150)" style="font-family:'Liberation Sans'" font-size="28.0" stroke="#000" stroke-width="0.5">2058</text>
<text transform="translate(619.00,639.89) rotate(-90) translate(0.35,0) scale(0.7100,1.0150)" style="font-family:'Liberation Sans'" font-size="28.0" stroke="#000" stroke-width="0.5">2058</text>
<text transform="translate(684.00,639.89) rotate(-90) translate(-0.35,0) scale(0.7100,1.0150)" style="font-family:'Liberation Sans'" font-size="28.0" stroke="#000" stroke-width="0.5">2352</text>
<text transform="translate(684.00,639.89) rotate(-90) translate(0.00,0) scale(0.7100,1.0150)" style="font-family:'Liberation Sans'" font-size="28.0" stroke="#000" stroke-width="0.5">2352</text>
<text transform="translate(684.00,639.89) rotate(-90) translate(0.35,0) scale(0.7100,1.0150)" style="font-family:'Liberation Sans'" font-size="28.0" stroke="#000" stroke-width="0.5">2352</text>
<text transform="translate(690.72,561.00) rotate(0) translate(-0.45,0) scale(0.7271,0.9700)" style="font-family:'Liberation Sans'" font-size="28.0" stroke="#000" stroke-width="0.5">[m</text>
<text transform="translate(690.72,561.00) rotate(0) translate(0.00,0) scale(0.7271,0.9700)" style="font-family:'Liberation Sans'" font-size="28.0" stroke="#000" stroke-width="0.5">[m</text>
<text transform="translate(690.72,561.00) rotate(0) translate(0.45,0) scale(0.7271,0.9700)" style="font-family:'Liberation Sans'" font-size="28.0" stroke="#000" stroke-width="0.5">[m</text>
<text transform="translate(713.47,549.00) rotate(0) translate(-0.25,0) scale(0.5526,0.9700)" style="font-family:'Liberation Sans'" font-size="16" stroke="#000" stroke-width="0.5">3</text>
<text transform="translate(713.47,549.00) rotate(0) translate(0.00,0) scale(0.5526,0.9700)" style="font-family:'Liberation Sans'" font-size="16" stroke="#000" stroke-width="0.5">3</text>
<text transform="translate(713.47,549.00) rotate(0) translate(0.25,0) scale(0.5526,0.9700)" style="font-family:'Liberation Sans'" font-size="16" stroke="#000" stroke-width="0.5">3</text>
<text transform="translate(719.40,561.00) rotate(0) translate(-0.45,0) scale(0.7366,0.9700)" style="font-family:'Liberation Sans'" font-size="28.0" stroke="#000" stroke-width="0.5">/h]</text>
<text transform="translate(719.40,561.00) rotate(0) translate(0.00,0) scale(0.7366,0.9700)" style="font-family:'Liberation Sans'" font-size="28.0" stroke="#000" stroke-width="0.5">/h]</text>
<text transform="translate(719.40,561.00) rotate(0) translate(0.45,0) scale(0.7366,0.9700)" style="font-family:'Liberation Sans'" font-size="28.0" stroke="#000" stroke-width="0.5">/h]</text>
<text transform="translate(690.94,627.00) rotate(0) translate(-0.45,0) scale(0.7198,1.0000)" style="font-family:'Liberation Sans'" font-size="28.0" stroke="#000" stroke-width="0.5">[CFM]</text>
<text transform="translate(690.94,627.00) rotate(0) translate(0.00,0) scale(0.7198,1.0000)" style="font-family:'Liberation Sans'" font-size="28.0" stroke="#000" stroke-width="0.5">[CFM]</text>
<text transform="translate(690.94,627.00) rotate(0) translate(0.45,0) scale(0.7198,1.0000)" style="font-family:'Liberation Sans'" font-size="28.0" stroke="#000" stroke-width="0.5">[CFM]</text>
</svg>
</body></html>
